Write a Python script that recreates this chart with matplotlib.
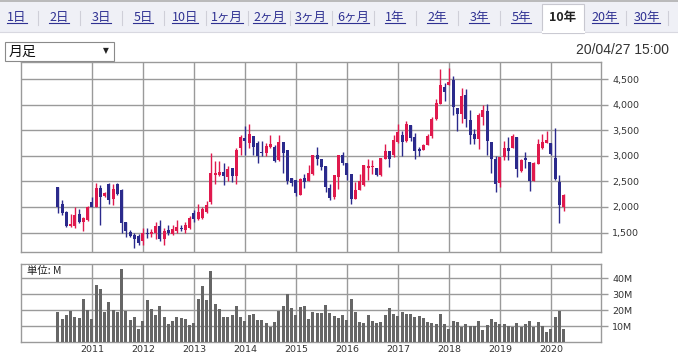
import numpy as np
import pandas as pd
import matplotlib; matplotlib.use("Agg")
import matplotlib.pyplot as plt
from matplotlib.patches import Rectangle
from matplotlib.ticker import FuncFormatter

plt.rcParams['font.family'] = ['Noto Sans CJK JP', 'DejaVu Sans']

# monthly candles, May 2010 .. Apr 2020
months = pd.period_range("2010-05", periods=120, freq="M")
opn = [2392,2059,1902,1628,1628,1863,1712,1745,2104,2000,2372,2215,2451,2157,2451,2333,1712,1516,1451,1432,
       1340,1497,1480,1485,1628,1366,1550,1465,1536,1583,1550,1583,1888,1759,1785,1908,2104,2626,2626,2685,
       2593,2763,2607,3155,3350,3247,3389,3247,3075,3062,3180,3180,2920,3272,3115,2568,2529,2235,2568,2515,
       2640,3011,2945,2802,2372,2196,2587,3011,2861,2640,2150,2327,2437,2763,2790,2763,2620,2945,3090,3011,
       3272,3415,3286,3610,3370,3129,3110,3207,3389,3716,4022,4348,4382,4480,3937,3826,4185,3696,3423,3325,
       3761,3879,3272,2933,2476,2978,3155,3155,3370,2698,2965,2880,2503,2848,3155,3247,3258,2959,2489,2000]
high = [2400,2137,1920,1863,2000,1960,1810,2020,2200,2470,2431,2300,2470,2444,2470,2350,1712,1550,1491,1470,
        1589,1589,1560,1700,1745,1580,1640,1640,1750,1640,1700,1830,1940,2059,2000,2120,3057,2900,2900,2860,
        2800,2763,3155,3410,3585,3624,3389,3300,3290,3250,3400,3215,3409,3272,3115,2568,2529,2560,2650,2820,
        3020,3174,2945,2802,2450,2620,3011,3070,2861,2640,2490,2650,2828,2945,2920,2763,2965,3239,3090,3403,
        3618,3480,3680,3610,3440,3170,3240,3430,3760,4120,4707,4420,4720,4565,3937,4330,4300,3892,3532,3830,
        3990,4016,3272,2990,2978,3286,3370,3435,3370,2935,3076,2880,2880,3337,3435,3481,3258,3546,2626,2260]
low = [1880,1843,1614,1614,1589,1686,1536,1725,2000,2000,1647,2200,2059,2039,2235,1497,1412,1420,1202,1260,
       1256,1393,1420,1380,1340,1250,1450,1450,1500,1530,1500,1560,1700,1740,1760,1880,2065,2450,2600,2431,
       2500,2480,2450,3017,3017,3150,3017,2860,3000,3000,3150,2880,2900,2665,2450,2420,2215,2235,2380,2515,
       2620,2822,2720,2294,2131,2150,2360,2822,2520,2065,2150,2327,2420,2522,2652,2600,2600,2945,2783,2980,
       3250,2998,3270,3286,2945,3000,3110,3207,3350,3700,4022,4069,4382,3806,3481,3650,3565,3239,3239,3141,
       3598,3023,2671,2294,2391,2914,2914,3155,2587,2680,2763,2307,2503,2848,3141,3247,3011,2520,1692,1922]
close = [2006,1888,1634,1667,1843,1712,1790,2000,2006,2372,2202,2280,2137,2353,2255,1692,1536,1432,1367,1288,
         1497,1471,1510,1628,1366,1536,1485,1569,1614,1563,1647,1778,1759,1908,1960,2039,2659,2671,2690,2607,
         2744,2607,3115,3370,3297,3429,3180,3004,3062,3194,3233,2900,3272,3062,2515,2463,2268,2548,2495,2671,
         3011,2945,2783,2391,2176,2620,3011,2861,2620,2163,2327,2503,2828,2800,2810,2633,2965,3102,2945,3317,
         3468,3272,3618,3350,3090,3090,3207,3389,3716,4035,4382,4250,4446,3957,3826,4172,3728,3415,3337,3795,
         3892,3286,2933,2456,2978,3155,3090,3389,2737,2913,2926,2503,2867,3239,3272,3311,3043,2553,2045,2241]
# volume, millions of shares
vol = [18.8,14.4,16.9,19.4,15.6,15.0,26.9,20.0,14.4,35.6,33.3,18.8,25.0,20.0,18.8,45.6,19.4,13.8,15.6,8.1,
       13.1,26.3,20.6,16.9,22.5,15.6,11.3,13.1,15.6,15.0,14.4,10.6,11.9,26.9,35.0,26.3,44.4,23.8,20.6,15.6,
       15.6,16.9,22.5,15.6,13.1,16.9,17.5,13.8,13.8,11.9,9.4,12.5,19.4,22.5,30.0,21.3,16.9,21.9,22.5,14.4,
       18.8,18.1,18.1,23.1,18.1,16.3,15.0,16.9,13.8,26.9,18.8,12.5,11.9,16.9,13.1,11.9,12.5,16.9,21.3,17.5,
       16.3,18.8,17.5,17.5,15.6,16.3,15.0,12.5,11.9,11.3,17.5,11.3,8.1,13.1,12.5,9.4,11.3,10.0,10.0,13.1,
       7.5,10.6,14.4,12.5,11.3,11.3,10.0,9.4,11.9,9.4,11.3,13.1,9.4,12.5,10.0,6.3,8.1,15.6,19.4,8.1]

tabs = ["1日","2日","3日","5日","10日","1ヶ月","2ヶ月","3ヶ月","6ヶ月","1年","2年","3年","5年","10年","20年","30年"]
selected = "10年"
price_ticks = [1500, 2000, 2500, 3000, 3500, 4000, 4500]
vol_ticks = [10, 20, 30, 40]

UP, DOWN = "#e0194d", "#2b2a8c"
GRID = "#9a9a9a"
W, H = 678, 357

fig = plt.figure(figsize=(W/100, H/100), dpi=100)
fig.patch.set_facecolor("white")

# ---- chrome (tab bar, selector, timestamp) in pixel coords
ui = fig.add_axes([0, 0, 1, 1], zorder=0)
ui.set_xlim(0, W); ui.set_ylim(H, 0); ui.axis("off")
ui.add_patch(Rectangle((0, 0), W, 32, facecolor="#eff0f6", edgecolor="none"))
ui.plot([0, W], [0.6, 0.6], color="#b0b0b0", lw=1.2)
ui.plot([0, W], [32, 32], color="#d8d8e0", lw=0.8)
step = 42.0
cx = [17 + step*k for k in range(len(tabs))]
fig.canvas.draw()
rend = fig.canvas.get_renderer()
inv = ui.transData.inverted()
for k, (lab, c) in enumerate(zip(tabs, cx)):
    if lab == selected:
        ui.add_patch(Rectangle((c - 21, 4), 42, 29, facecolor="white", edgecolor="#c8c8d0", lw=0.8))
        ui.plot([c - 20.5, c + 20.5], [32, 32], color="white", lw=1.5)
        ui.text(c, 17, lab, ha="center", va="center", fontsize=9, fontweight="bold", color="#222222")
        continue
    t = ui.text(c, 17, lab, ha="center", va="center", fontsize=9, color="#2f3192")
    bb = t.get_window_extent(rend)
    (x0, _), (x1, _) = inv.transform([[bb.x0, bb.y0], [bb.x1, bb.y1]])
    ui.plot([x0, x1], [23.2, 23.2], color="#2f3192", lw=0.8)
    nxt = tabs[k + 1] if k + 1 < len(tabs) else None
    if nxt != selected and lab != selected:
        ui.plot([c + step/2, c + step/2], [11, 25], color="#cfcfd8", lw=0.8)

ui.add_patch(Rectangle((5, 42), 109, 19, facecolor="white", edgecolor="#8a8a8a", lw=0.8))
ui.text(9, 52, "月足", ha="left", va="center", fontsize=10, color="#111111")
ui.text(106, 51, "▼", ha="center", va="center", fontsize=5.5, color="#222222", family="DejaVu Sans")
ui.text(669, 50, "20/04/27 15:00", ha="right", va="center", fontsize=10,
        family="Liberation Sans", color="#333333")

# ---- price axes
x = np.arange(len(months))
opn, high, low, close = map(np.array, (opn, high, low, close))
up = close >= opn
col = np.where(up, UP, DOWN)

ax = fig.add_axes([21/W, 1 - 252/H, 580/W, 190/H], zorder=1)
ax.set_facecolor("white")
ax.vlines(x, low, high, colors=col, lw=1, zorder=3)
body = np.maximum(np.abs(close - opn), 18)
ax.bar(x, body, bottom=np.minimum(opn, close), width=0.72, color=col, lw=0, zorder=4)
ax.set_xlim(-8.7, 127.8)
ax.set_ylim(1119, 4838)

yr = [i for i, m in enumerate(months) if m.month == 1]
yr_lab = [str(months[i].year) for i in yr]

for a in (ax,):
    pass
ax.set_xticks(yr)
ax.set_xticklabels([])
ax.tick_params(axis="x", length=0)
ax.yaxis.tick_right()
ax.set_yticks(price_ticks)
ax.yaxis.set_major_formatter(FuncFormatter(lambda v, p: f"{v:,.0f}"))
ax.tick_params(axis="y", length=5, width=1, color=GRID, labelsize=6.8, labelcolor="#333333", pad=3)
for lab in ax.get_yticklabels():
    lab.set_family("DejaVu Sans")
ax.grid(True, color=GRID, lw=1)
ax.set_axisbelow(True)
for s in ax.spines.values():
    s.set_color(GRID); s.set_linewidth(1)

# ---- volume axes
av = fig.add_axes([21/W, 1 - 342/H, 580/W, 78/H], zorder=1)
av.bar(x, vol, width=0.72, color="#666666", lw=0, zorder=3)
av.set_xlim(-8.7, 127.8)
av.set_ylim(0, 48.75)
av.set_xticks(yr)
av.set_xticklabels(yr_lab, fontsize=6.8, color="#333333", family="DejaVu Sans")
av.tick_params(axis="x", length=0, pad=2)
av.yaxis.tick_right()
av.set_yticks(vol_ticks)
av.set_yticklabels([f"{v}M" for v in vol_ticks], family="DejaVu Sans")
av.tick_params(axis="y", length=5, width=1, color=GRID, labelsize=6.8, labelcolor="#333333", pad=3)
av.grid(True, color=GRID, lw=1)
av.set_axisbelow(True)
for s in av.spines.values():
    s.set_color(GRID); s.set_linewidth(1)
av.text(6/580, 1 - 7/78, "単位: M", transform=av.transAxes, ha="left", va="center",
        fontsize=7.5, color="#222222", zorder=5,
        bbox=dict(facecolor="white", edgecolor="none", pad=0.5))

fig.savefig("out.png", dpi=100)
